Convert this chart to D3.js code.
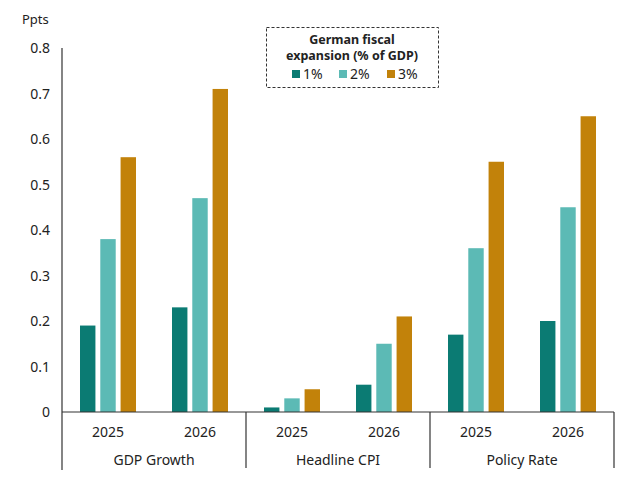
<!DOCTYPE html>
<html>
<head>
<meta charset="utf-8">
<title>German fiscal expansion</title>
<script src="https://cdn.jsdelivr.net/npm/d3@7"></script>
<style>
body { margin: 0; background: #fff; }
text { font-family: "Noto Sans", sans-serif; fill: #222; }
</style>
</head>
<body>
<script>
// data
var groups = ["GDP Growth", "Headline CPI", "Policy Rate"];
var years = ["2025", "2026"];
var series = ["1%", "2%", "3%"];
var colors = ["#0b7b73", "#5cbab5", "#c2820a"];
var v1 = [0.19, 0.23, 0.01, 0.06, 0.17, 0.20];
var v2 = [0.38, 0.47, 0.03, 0.15, 0.36, 0.45];
var v3 = [0.56, 0.71, 0.05, 0.21, 0.55, 0.65];
var yTicks = [0, 0.1, 0.2, 0.3, 0.4, 0.5, 0.6, 0.7, 0.8];

var w = 639, h = 483;
var left = 62, right = 614, y0 = 412, yTop = 48;

var svg = d3.select("body").append("svg")
  .attr("width", w).attr("height", h);

var y = d3.scaleLinear().domain([0, 0.8]).range([y0, yTop]);
var xg = d3.scaleBand().domain(groups).range([left, right]);
var xy = d3.scaleBand().domain(years).range([0, xg.bandwidth()]);
var xs = d3.scaleBand().domain(series).range([0, 56]).paddingInner(0.24);

var rows = [];
groups.forEach(function(g, gi) {
  years.forEach(function(yr, yi) {
    var k = gi * 2 + yi;
    [v1, v2, v3].forEach(function(arr, si) {
      rows.push({g: g, yr: yr, s: series[si], c: colors[si], v: arr[k]});
    });
  });
});

svg.selectAll("rect.bar")
  .data(rows)
  .enter()
  .append("rect")
  .attr("class", "bar")
  .attr("x", function(d) { return xg(d.g) + xy(d.yr) + xy.bandwidth() / 2 - 28 + xs(d.s); })
  .attr("y", function(d) { return y(d.v); })
  .attr("width", xs.bandwidth())
  .attr("height", function(d) { return y0 - y(d.v); })
  .attr("fill", function(d) { return d.c; });

// y axis
svg.append("line")
  .attr("x1", left).attr("x2", left).attr("y1", yTop).attr("y2", 470)
  .attr("stroke", "#333").attr("stroke-width", 1.2);
svg.selectAll("text.ytick")
  .data(yTicks)
  .enter()
  .append("text")
  .attr("x", 50)
  .attr("y", function(d) { return y(d) + 5; })
  .attr("text-anchor", "end")
  .attr("font-size", 14)
  .text(function(d) { return d === 0 ? "0" : d3.format(".1f")(d); });
svg.append("text").attr("x", 22).attr("y", 24).attr("font-size", 13).text("Ppts");

// x axis
svg.append("line")
  .attr("x1", left).attr("x2", right).attr("y1", y0).attr("y2", y0)
  .attr("stroke", "#333").attr("stroke-width", 1.2);
var seps = groups.map(function(g) { return xg(g); }).concat([right]);
svg.selectAll("line.sep")
  .data(seps.slice(1))
  .enter()
  .append("line")
  .attr("x1", function(d) { return d; }).attr("x2", function(d) { return d; })
  .attr("y1", y0).attr("y2", 468)
  .attr("stroke", "#333").attr("stroke-width", 1.2);

groups.forEach(function(g) {
  years.forEach(function(yr) {
    svg.append("text")
      .attr("x", xg(g) + xy(yr) + xy.bandwidth() / 2)
      .attr("y", 437)
      .attr("text-anchor", "middle")
      .attr("font-size", 14)
      .text(yr);
  });
  svg.append("text")
    .attr("x", xg(g) + xg.bandwidth() / 2)
    .attr("y", 465)
    .attr("text-anchor", "middle")
    .attr("font-size", 14)
    .text(g);
});

// legend
var lg = svg.append("g");
lg.append("rect")
  .attr("x", 266.5).attr("y", 27.5).attr("width", 172).attr("height", 60)
  .attr("fill", "#fff").attr("stroke", "#333").attr("stroke-dasharray", "3,2");
lg.append("text").attr("x", 352).attr("y", 44).attr("text-anchor", "middle")
  .attr("font-size", 12.5).attr("font-weight", "bold").text("German fiscal");
lg.append("text").attr("x", 352).attr("y", 60).attr("text-anchor", "middle")
  .attr("font-size", 12.5).attr("font-weight", "bold").text("expansion (% of GDP)");
var lx = [292, 339, 387];
series.forEach(function(s, i) {
  lg.append("rect").attr("x", lx[i]).attr("y", 70).attr("width", 8).attr("height", 8)
    .attr("fill", colors[i]);
  lg.append("text").attr("x", lx[i] + 11).attr("y", 79).attr("font-size", 14).text(s);
});
</script>
</body>
</html>
